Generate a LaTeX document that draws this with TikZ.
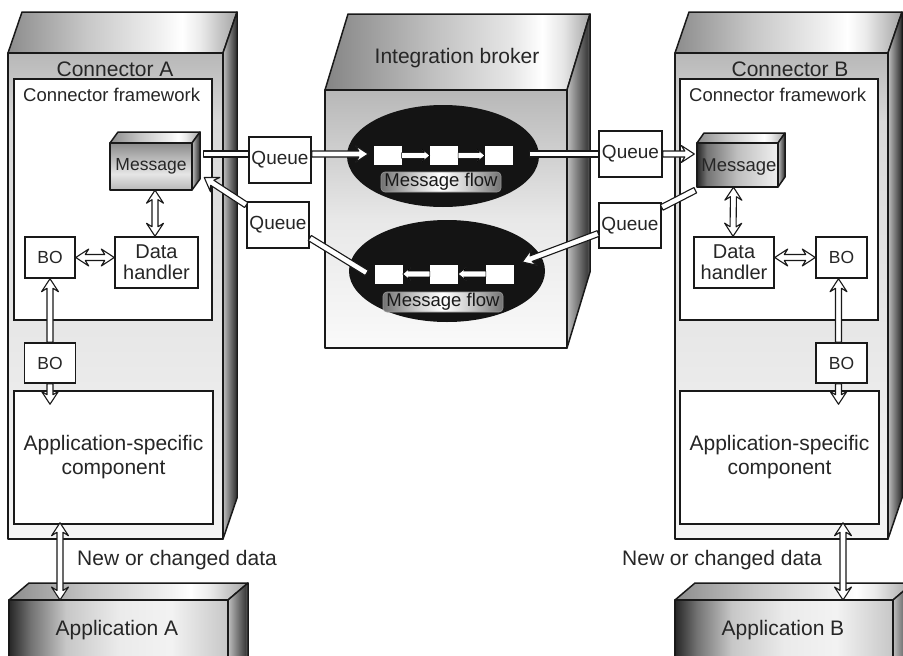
\documentclass[tikz,border=0pt]{standalone}
\usepackage{fontspec}
\setmainfont{Liberation Sans}
\usetikzlibrary{calc,shapes.geometric}

\pgfdeclarehorizontalshading{metal}{100bp}{color(0bp)=(black!45); color(25bp)=(black!45); color(42bp)=(black!22); color(58bp)=(black!6); color(63bp)=(white); color(67bp)=(black!8); color(75bp)=(black!36); color(100bp)=(black!36)}
\pgfdeclarehorizontalshading{bmetal}{100bp}{color(0bp)=(black!48); color(25bp)=(black!48); color(45bp)=(black!25); color(60bp)=(black!10); color(66bp)=(white); color(70bp)=(black!10); color(75bp)=(black!35); color(100bp)=(black!35)}
\pgfdeclarehorizontalshading{sideface}{100bp}{color(0bp)=(black!25); color(25bp)=(black!25); color(42bp)=(black!45); color(68bp)=(black!75); color(75bp)=(black!60); color(100bp)=(black!60)}
\pgfdeclareverticalshading{connfront}{100bp}{color(0bp)=(black!4); color(25bp)=(black!4); color(45bp)=(black!9); color(68bp)=(black!15); color(75bp)=(black!28); color(100bp)=(black!28)}
\pgfdeclareverticalshading{brokerfront}{100bp}{color(0bp)=(black!2); color(25bp)=(black!2); color(50bp)=(black!9); color(75bp)=(black!28); color(100bp)=(black!28)}
\pgfdeclarehorizontalshading{appfront}{100bp}{color(0bp)=(black!85); color(25bp)=(black!85); color(30bp)=(black!55); color(38bp)=(black!22); color(50bp)=(black!8); color(62bp)=(black!5); color(75bp)=(black!22); color(100bp)=(black!22)}
\pgfdeclareverticalshading{msgafront}{100bp}{color(0bp)=(black!28); color(25bp)=(black!28); color(42bp)=(black!10); color(75bp)=(black!45); color(100bp)=(black!45)}
\pgfdeclarehorizontalshading{msgbfront}{100bp}{color(0bp)=(black!85); color(25bp)=(black!85); color(31bp)=(black!55); color(50bp)=(black!25); color(75bp)=(black!6); color(100bp)=(black!6)}
\pgfdeclarehorizontalshading{flowlbl}{100bp}{color(0bp)=(black!55); color(25bp)=(black!55); color(40bp)=(black!18); color(50bp)=(white); color(60bp)=(black!18); color(75bp)=(black!55); color(100bp)=(black!55)}

\newcommand\boxthree[9]{%
  \shadedraw[shading=#8, facedraw] (#1,#2) -- (#1+#5,#2+#6) -- (#3+#5,#2+#6) -- (#3,#2) -- cycle;
  \shadedraw[shading=#9, facedraw] (#3,#2) -- (#3+#5,#2+#6) -- (#3+#5,#4+#6) -- (#3,#4) -- cycle;
  \shadedraw[shading=#7, facedraw] (#1,#2) rectangle (#3,#4);}

\def\arsw{3}\def\arhw{8.5}\def\arhl{13}\def\arhn{3.5}
\newcommand\harr[5]{%
  \path (#1) coordinate (hA) (#2) coordinate (hB);%
  \pgfpointdiff{\pgfpointanchor{hA}{center}}{\pgfpointanchor{hB}{center}}%
  \pgfgetlastxy{\hdx}{\hdy}%
  \pgfmathsetmacro\hang{atan2(\hdy,\hdx)}%
  \pgfmathsetmacro\hlen{veclen(\hdx,\hdy)}%
  \ifnum#3=1 \def\hpa{(0,0) -- (\arhl,\arhw) -- (\arhl-\arhn,\arsw)}\def\hpc{-- (\arhl-\arhn,-\arsw) -- (\arhl,-\arhw) -- cycle}%
  \else \def\hpa{(0,\arsw)}\def\hpc{-- (0,-\arsw) -- cycle}\fi
  \ifnum#4=1 \def\hpb{-- (\hlen-\arhl+\arhn,\arsw) -- (\hlen-\arhl,\arhw) -- (\hlen,0) -- (\hlen-\arhl,-\arhw) -- (\hlen-\arhl+\arhn,-\arsw)}%
  \else \def\hpb{-- (\hlen,\arsw) -- (\hlen,-\arsw)}\fi
  \begin{scope}[shift={(hA)}, rotate=\hang, x=1pt, y=1pt]
    \filldraw[#5] \hpa \hpb \hpc;
  \end{scope}}

\begin{document}
\begin{tikzpicture}[x=1pt,y=-1pt,
  facedraw/.style={draw=black!90, line width=1.5pt, line join=round},
  box/.style={draw=black!90, line width=1.5pt, fill=white, inner sep=0pt, align=center, text=black!85},
  txt/.style={inner sep=0pt, text=black!85, align=center},
  f21/.style={font=\fontsize{21}{24}\selectfont},
  f20/.style={font=\fontsize{20}{21}\selectfont},
  f19/.style={font=\fontsize{19}{21}\selectfont},
  f18/.style={font=\fontsize{18.5}{21}\selectfont},
  f17/.style={font=\fontsize{17.5}{20}\selectfont},
  arr/.style={fill=white, draw=black!90, line width=1.1pt, line join=round},
  inarr/.style={fill=white, draw=black, line width=0.5pt, line join=round},
  sq/.style={fill=white, inner sep=0pt, minimum width=28pt, minimum height=19pt},
  flow/.style={shade, shading=flowlbl, draw=black!40, line width=0.6pt, rounded corners=4pt, inner sep=0pt, minimum width=120pt, minimum height=20pt, text=black!90, font=\fontsize{18.5}{21}\selectfont},
  ell/.style={ellipse, fill=black!92, inner sep=0pt}]

\path[use as bounding box] (0,0) rectangle (903,656);
\clip (0,0) rectangle (903,656);

% 3D shells
\boxthree{8}{53}{223}{539}{14}{-41}{connfront}{metal}{sideface}
\boxthree{675}{53}{888}{539}{14}{-41}{connfront}{metal}{sideface}
\boxthree{325}{90}{567}{348}{23}{-76}{brokerfront}{bmetal}{sideface}
\boxthree{9}{600}{228}{680}{20}{-17}{appfront}{metal}{sideface}
\boxthree{675}{600}{893}{680}{20}{-17}{appfront}{metal}{sideface}

\node[txt,f21] (connA) at (115,69) {Connector A};
\node[txt,f21] (connB) at (790,69) {Connector B};
\node[txt,f21] (broker) at (457,58) {Integration broker};
\node[txt,f21] (appA) at (117,630) {Application A};
\node[txt,f21] (appB) at (783,630) {Application B};

% frameworks
\node[box, minimum width=198pt, minimum height=241pt] (fwA) at (113,199.5) {};
\node[txt,f18,anchor=west] (fwAl) at (23,95) {Connector framework};
\node[box, minimum width=198pt, minimum height=241pt] (fwB) at (779,199.5) {};
\node[txt,f18,anchor=west] (fwBl) at (689,95) {Connector framework};

% message boxes
\boxthree{110}{143}{192}{190}{8}{-11}{msgafront}{metal}{sideface}
\node[txt,f17, minimum width=82pt, minimum height=47pt] (msgA) at (151,166.5) {Message};
\boxthree{697}{143}{778}{187}{7}{-10}{msgbfront}{metal}{sideface}
\node[txt,f18, minimum width=81pt, minimum height=40pt] (msgB) at (739,167) {Message};

% inner boxes A
\node[box,f20, minimum width=83pt, minimum height=51pt] (dhA) at (156.5,262.5) {Data\\handler};
\node[box,f17, minimum width=50pt, minimum height=41pt] (boA) at (50,257.5) {BO};
\node[box,f17, minimum width=51pt, minimum height=40pt] (boA2) at (50,363) {BO};
\node[box,f21, minimum width=199pt, minimum height=133pt] (asA) at (113.5,457.5) {Application-specific\\component};

% inner boxes B
\node[box,f20, minimum width=80pt, minimum height=51pt] (dhB) at (734,262.5) {Data\\handler};
\node[box,f17, minimum width=51pt, minimum height=41pt] (boB) at (841.5,257.5) {BO};
\node[box,f17, minimum width=51pt, minimum height=40pt] (boB2) at (841.5,363) {BO};
\node[box,f21, minimum width=199pt, minimum height=133pt] (asB) at (779.5,457.5) {Application-specific\\component};

% queues
\node[box,f19,minimum width=62pt,minimum height=46pt] (qa1) at (280,160) {Queue};
\node[box,f19,minimum width=62pt,minimum height=46pt] (qa2) at (278,225) {Queue};
\node[box,f19,minimum width=63pt,minimum height=46pt] (qb1) at (630.5,154) {Queue};
\node[box,f19,minimum width=62pt,minimum height=45pt] (qb2) at (630,225.5) {Queue};

% broker ellipses
\node[ell, minimum width=192pt, minimum height=102pt] (e1) at (443,156) {};
\node[ell, minimum width=196pt, minimum height=102pt] (e2) at (447,271) {};
\node[sq] (s11) at (387.5,155.5) {};
\node[sq] (s12) at (444,155.5) {};
\node[sq] (s13) at (499,155.5) {};
\node[sq] (s21) at (388.5,274) {};
\node[sq] (s22) at (444,274) {};
\node[sq] (s23) at (500,274) {};
\node[flow] (mf1) at (441,182) {Message flow};
\node[flow] (mf2) at (443,302) {Message flow};

% queue / message arrows
\harr{$(msgA.east)+(11,-12.5)$}{$(qa1.west)+(0,-6)$}{0}{0}{arr}
\harr{$(qa1.east)+(0,-6)$}{$(s11.west)+(-5,-1.5)$}{0}{1}{arr}
\harr{$(s13.east)+(16,-1.5)$}{qb1.west}{0}{0}{arr}
\harr{qb1.east}{$(msgB.west)+(-4,-13)$}{0}{1}{arr}
\harr{$(msgB.south west)+(-3,3)$}{$(qb2.east)+(0,-18)$}{0}{0}{arr}
\harr{$(qb2.west)+(0,8)$}{$(e2.east)+(-23,-9)$}{0}{1}{arr}
\harr{$(e2.west)+(18,2)$}{$(qa2.east)+(0,13)$}{0}{0}{arr}
\harr{$(qa2.west)+(0,-20)$}{$(msgA.east)+(12,11)$}{0}{1}{arr}

% internal A
\harr{boA.east}{boA.east -| dhA.west}{1}{1}{arr}
\harr{$(msgA.south)+(4,0)$}{$(dhA.north)+(-1.5,0)$}{1}{1}{arr}
\harr{boA2.north}{boA.south}{0}{1}{arr}
\harr{boA2.south}{$(boA2.south |- asA.north)+(0,14)$}{0}{1}{arr}
\coordinate (appAtop) at (60,600);
\harr{$(asA.south)+(-53.5,-2)$}{appAtop}{1}{1}{arr}

% internal B
\harr{boB.west -| dhB.east}{boB.west}{1}{1}{arr}
\harr{$(msgB.south)+(-5.5,0)$}{$(dhB.north)+(-1,0)$}{1}{1}{arr}
\harr{$(boB2.north)+(-3,0)$}{$(boB.south)+(-3,0)$}{0}{1}{arr}
\harr{$(boB2.south)+(-3,0)$}{$(boB2.south |- asB.north)+(-3,14)$}{0}{1}{arr}
\coordinate (appBtop) at (843,600);
\harr{$(asB.south)+(63.5,-2)$}{appBtop}{1}{1}{arr}

% arrows inside the flows
\def\arsw{2.8}\def\arhw{6.5}\def\arhl{8}\def\arhn{2.5}
\harr{s11.east}{s12.west}{0}{1}{inarr}
\harr{s12.east}{s13.west}{0}{1}{inarr}
\harr{s23.west}{s22.east}{0}{1}{inarr}
\harr{s22.west}{s21.east}{0}{1}{inarr}

\node[txt,f21,anchor=west] (ncA) at (77,560) {New or changed data};
\node[txt,f21,anchor=east] (ncB) at (822,560) {New or changed data};
\end{tikzpicture}
\end{document}
